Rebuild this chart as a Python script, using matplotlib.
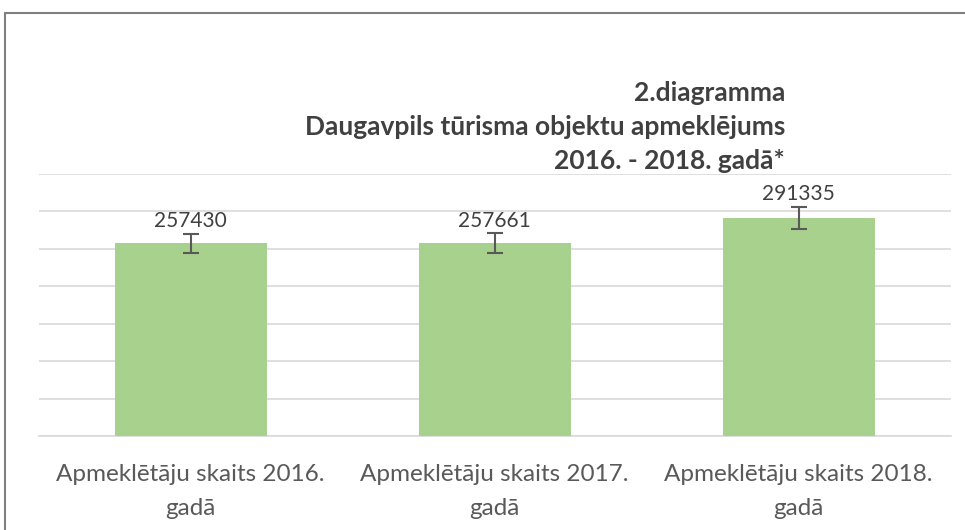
import numpy as np
import matplotlib.pyplot as plt
from matplotlib.patches import Rectangle

plt.rcParams['font.family'] = ['Lato', 'DejaVu Sans']

categories = ['Apmeklētāju skaits 2016.\ngadā',
              'Apmeklētāju skaits 2017.\ngadā',
              'Apmeklētāju skaits 2018.\ngadā']
visitors = [257430, 257661, 291335]
err_pct = 0.05

fig = plt.figure(figsize=(9.65, 5.3), dpi=100)
ax = fig.add_axes([0.040, 0.177, 0.945, 0.495])

x = np.arange(len(categories))
errs = [v * err_pct for v in visitors]
ax.bar(x, visitors, width=0.5, color='#A9D18E', zorder=3)
ax.errorbar(x, visitors, yerr=errs, fmt='none', ecolor='#595959',
            elinewidth=1.5, capsize=6, capthick=1.5, zorder=4)

for xi, v, e in zip(x, visitors, errs):
    ax.annotate(str(v), (xi, v + e), xytext=(0, 2), textcoords='offset points',
                ha='center', va='bottom', fontsize=15, color='#404040')

ax.set_xlim(-0.5, 2.5)
ax.set_ylim(0, 350000)
ax.set_yticks(np.arange(0, 350001, 50000))
ax.yaxis.grid(True, color='#D9D9D9', linewidth=1.2, zorder=0)
ax.tick_params(axis='y', length=0, labelleft=False)
ax.tick_params(axis='x', length=0, pad=20, labelsize=17.5, labelcolor='#595959')
ax.set_xticks(x)
ax.set_xticklabels(categories)
for lbl in ax.get_xticklabels():
    lbl.set_linespacing(1.75)
for s in ['top', 'right', 'left']:
    ax.spines[s].set_visible(False)
ax.spines['bottom'].set_color('#D9D9D9')
ax.spines['bottom'].set_linewidth(1.2)

fig.text(785 / 965, 1 - 81 / 530,
         '2.diagramma\nDaugavpils tūrisma objektu apmeklējums\n2016. - 2018. gadā*',
         ha='right', va='top', fontsize=19, fontweight='bold',
         color='#404040', linespacing=1.5)

fig.patches.append(Rectangle((5 / 965, -0.1), 1.2, 1 - 13 / 530 + 0.1,
                             transform=fig.transFigure, fill=False,
                             edgecolor='#7F7F7F', linewidth=1.5))

fig.savefig('out.png', dpi=100)
